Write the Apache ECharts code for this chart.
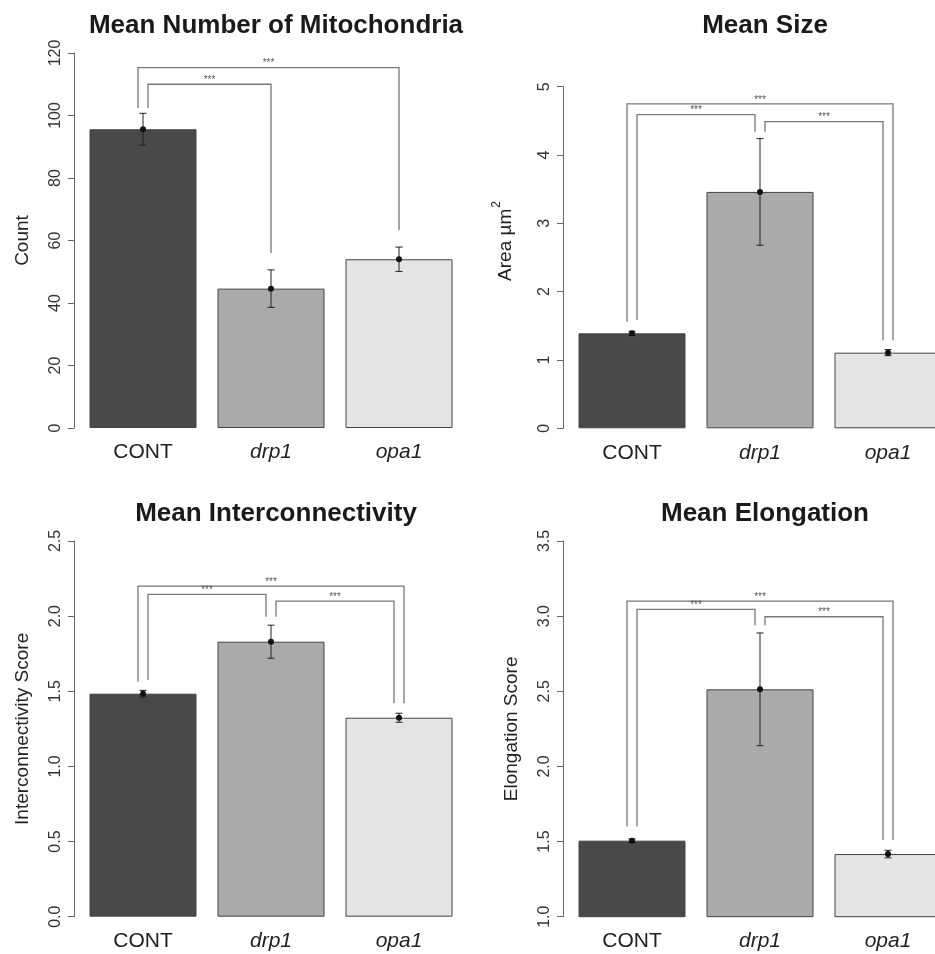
<!DOCTYPE html>
<html>
<head>
<meta charset="utf-8">
<script src="https://cdn.jsdelivr.net/npm/echarts@6/dist/echarts.min.js"></script>
<style>
html,body{margin:0;padding:0;background:#fff;}
#chart{width:935px;height:954px;}
</style>
</head>
<body>
<div id="chart"></div>
<script>
// ---------- DATA ----------
const categories = ['CONT', 'drp1', 'opa1'];
const italicCats = ['drp1', 'opa1'];

const titles = ['Mean Number of Mitochondria', 'Mean Size', 'Mean Interconnectivity', 'Mean Elongation'];
const yNames = ['Count', 'Area \u00b5m', 'Interconnectivity Score', 'Elongation Score'];

const countMean = [95.6, 44.6, 54.0];
const countErr  = [5.1, 6.0, 3.9];
const sizeMean  = [1.39, 3.46, 1.107];
const sizeErr   = [0.03, 0.78, 0.045];
const interMean = [1.484, 1.83, 1.324];
const interErr  = [0.022, 0.11, 0.03];
const elongMean = [1.506, 2.513, 1.417];
const elongErr  = [0.012, 0.375, 0.025];

// brackets: [fromIndex, toIndex, topValue, leftLegBottom, rightLegBottom]
const countBrackets = [[0, 1, 110, 102.4, 56], [0, 2, 115.3, 102.4, 63.4]];
const sizeBrackets  = [[0, 2, 4.75, 1.56, 1.29], [0, 1, 4.59, 1.585, 4.34], [1, 2, 4.49, 4.34, 1.29]];
const interBrackets = [[0, 2, 2.20, 1.564, 1.42], [0, 1, 2.145, 1.575, 1.996], [1, 2, 2.10, 1.996, 1.42]];
const elongBrackets = [[0, 2, 3.10, 1.60, 1.51], [0, 1, 3.045, 1.60, 2.94], [1, 2, 2.996, 2.94, 1.51]];
const sigLabel = '***';

// axis ranges and ticks
const yMin = [0, 0, 0, 1.0];
const yMax = [120, 5, 2.5, 3.5];
const yStep = [20, 1, 0.5, 0.5];
const yDecimals = [0, 0, 1, 1];

// ---------- LAYOUT / STYLE ----------
const means = [countMean, sizeMean, interMean, elongMean];
const errs = [countErr, sizeErr, interErr, elongErr];
const brackets = [countBrackets, sizeBrackets, interBrackets, elongBrackets];
const barColors = ['#494949', '#aaaaaa', '#e4e4e4'];
const grids = [
  {left: 79, top: 53, width: 384, height: 375},
  {left: 568, top: 86.7, width: 384, height: 341.6},
  {left: 79, top: 541, width: 384, height: 375.7},
  {left: 568, top: 541, width: 384, height: 375.7}
].map(g => Object.assign(g, {outerBoundsMode: 'none', containLabel: false}));
const titlePos = [[271, 8], [760, 8], [271, 496], [760, 496]];
const centerRightLegs = [true, false, false, false];
const namePad = [0, 33, 0, 0];

const option = {
  backgroundColor: '#ffffff',
  animation: false,
  title: titles.map((t, i) => ({
    text: t, left: titlePos[i][0], top: titlePos[i][1], textAlign: 'center',
    textStyle: {fontFamily: 'Liberation Sans, Arial', fontWeight: 'bold', fontSize: 26, color: '#1a1a1a'}
  })),
  grid: grids,
  xAxis: grids.map((g, i) => ({
    type: 'category', gridIndex: i, data: categories,
    axisLine: {show: false}, axisTick: {show: false}, splitLine: {show: false},
    axisLabel: {
      margin: 14, fontSize: 21, color: '#222', fontFamily: 'Liberation Sans, Arial',
      formatter: v => italicCats.includes(v) ? '{i|' + v + '}' : v,
      rich: {i: {fontStyle: 'italic', fontSize: 21, color: '#222', fontFamily: 'Liberation Sans, Arial'}}
    }
  })),
  yAxis: grids.map((g, i) => ({
    type: 'value', gridIndex: i, min: yMin[i], max: yMax[i], interval: yStep[i],
    offset: 5,
    name: i === 1 ? '{a|' + yNames[i] + '}{s|2}' : yNames[i],
    nameLocation: 'middle', nameRotate: 90, nameGap: 42,
    nameTextStyle: {
      fontSize: 19, color: '#222', fontFamily: 'Liberation Sans, Arial',
      padding: [0, 0, 0, namePad[i]],
      rich: {
        a: {fontSize: 19, color: '#222', fontFamily: 'Liberation Sans, Arial'},
        s: {fontSize: 12, color: '#222', fontFamily: 'Liberation Sans, Arial', verticalAlign: 'top', padding: [0, 0, 18, 1]}
      }
    },
    axisLine: {show: true, lineStyle: {color: '#666', width: 1}},
    axisTick: {show: true, length: 6, lineStyle: {color: '#666'}},
    splitLine: {show: false},
    axisLabel: {
      rotate: 90, margin: 10, fontSize: 16, color: '#333', fontFamily: 'Liberation Sans, Arial',
      formatter: v => Number(v).toFixed(yDecimals[i])
    }
  })),
  series: []
};

grids.forEach((g, i) => {
  option.series.push({
    type: 'bar', xAxisIndex: i, yAxisIndex: i, barWidth: 107,
    startValue: yMin[i],
    data: means[i].map((v, k) => ({value: v, itemStyle: {color: barColors[k], borderColor: '#444', borderWidth: 1}}))
  });
  // error bars
  option.series.push({
    type: 'custom', xAxisIndex: i, yAxisIndex: i, z: 5,
    data: means[i].map((v, k) => [k, v, errs[i][k]]),
    renderItem: function (params, api) {
      const k = api.value(0), m = api.value(1), e = api.value(2);
      const c = api.coord([k, m]);
      const t = api.coord([k, m + e]);
      const b = api.coord([k, m - e]);
      const st = {stroke: '#222', lineWidth: 1};
      return {type: 'group', children: [
        {type: 'line', shape: {x1: c[0], y1: t[1], x2: c[0], y2: b[1]}, style: st},
        {type: 'line', shape: {x1: c[0] - 3.5, y1: t[1], x2: c[0] + 3.5, y2: t[1]}, style: st},
        {type: 'line', shape: {x1: c[0] - 3.5, y1: b[1], x2: c[0] + 3.5, y2: b[1]}, style: st},
        {type: 'circle', shape: {cx: c[0], cy: c[1], r: 3}, style: {fill: '#111'}}
      ]};
    }
  });
  // significance brackets
  option.series.push({
    type: 'custom', xAxisIndex: i, yAxisIndex: i, z: 6,
    data: brackets[i],
    renderItem: function (params, api) {
      const f = api.value(0), to = api.value(1), top = api.value(2), lb = api.value(3), rb = api.value(4);
      const outer = (to - f) === 2;
      const offL = outer ? -5 : 5;
      const offR = centerRightLegs[i] ? 0 : (outer ? 5 : -5);
      const pL = api.coord([f, lb]);
      const pR = api.coord([to, rb]);
      const yT = api.coord([f, top])[1];
      const xL = pL[0] + offL, xR = pR[0] + offR;
      const st = {stroke: '#777', lineWidth: 1.3, fill: null};
      return {type: 'group', children: [
        {type: 'polyline', shape: {points: [[xL, pL[1]], [xL, yT], [xR, yT], [xR, pR[1]]]}, style: st},
        {type: 'text', x: (xL + xR) / 2, y: yT + 1, style: {text: sigLabel, fontSize: 10, fill: '#555', textAlign: 'center', textVerticalAlign: 'bottom', fontFamily: 'Liberation Sans, Arial'}}
      ]};
    }
  });
});

const chart = echarts.init(document.getElementById('chart'), null, {renderer: 'canvas'});
chart.setOption(option);
</script>
</body>
</html>
